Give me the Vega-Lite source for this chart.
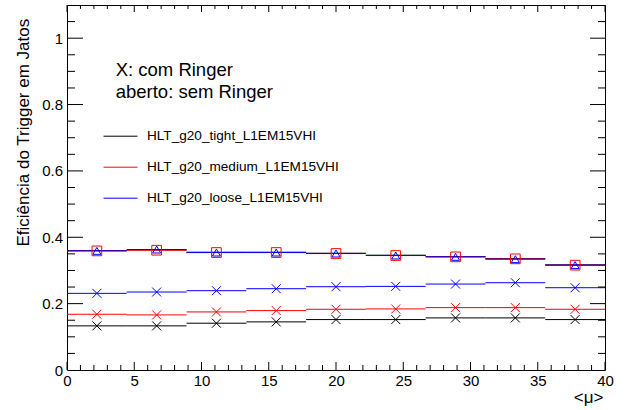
{
  "$schema": "https://vega.github.io/schema/vega-lite/v6.json",
  "width": 538,
  "height": 365,
  "autosize": {"type": "none"},
  "padding": {"left": 67, "top": 5, "right": 23, "bottom": 40},
  "background": "white",
  "config": {
    "view": {"stroke": "black", "strokeWidth": 1},
    "font": "Liberation Sans",
    "legend": {
      "orient": "none",
      "legendX": 36,
      "legendY": 113.7,
      "padding": 0,
      "symbolType": "stroke",
      "symbolSize": 1156,
      "symbolStrokeWidth": 1,
      "labelOffset": 9,
      "rowPadding": 6,
      "labelFont": "Liberation Sans",
      "labelFontSize": 13.6,
      "labelColor": "black",
      "labelLimit": 0
    }
  },
  "data": {
    "values": [
      {"trigger": "HLT_g20_tight_L1EM15VHI", "ringer": "com", "mu": 2.222, "lo": 0, "hi": 4.444, "eff": 0.133},
      {"trigger": "HLT_g20_tight_L1EM15VHI", "ringer": "com", "mu": 6.667, "lo": 4.444, "hi": 8.889, "eff": 0.133},
      {"trigger": "HLT_g20_tight_L1EM15VHI", "ringer": "com", "mu": 11.111, "lo": 8.889, "hi": 13.333, "eff": 0.141},
      {"trigger": "HLT_g20_tight_L1EM15VHI", "ringer": "com", "mu": 15.556, "lo": 13.333, "hi": 17.778, "eff": 0.145},
      {"trigger": "HLT_g20_tight_L1EM15VHI", "ringer": "com", "mu": 20, "lo": 17.778, "hi": 22.222, "eff": 0.152},
      {"trigger": "HLT_g20_tight_L1EM15VHI", "ringer": "com", "mu": 24.444, "lo": 22.222, "hi": 26.667, "eff": 0.152},
      {"trigger": "HLT_g20_tight_L1EM15VHI", "ringer": "com", "mu": 28.889, "lo": 26.667, "hi": 31.111, "eff": 0.157},
      {"trigger": "HLT_g20_tight_L1EM15VHI", "ringer": "com", "mu": 33.333, "lo": 31.111, "hi": 35.556, "eff": 0.157},
      {"trigger": "HLT_g20_tight_L1EM15VHI", "ringer": "com", "mu": 37.778, "lo": 35.556, "hi": 40, "eff": 0.152},
      {"trigger": "HLT_g20_medium_L1EM15VHI", "ringer": "com", "mu": 2.222, "lo": 0, "hi": 4.444, "eff": 0.168},
      {"trigger": "HLT_g20_medium_L1EM15VHI", "ringer": "com", "mu": 6.667, "lo": 4.444, "hi": 8.889, "eff": 0.166},
      {"trigger": "HLT_g20_medium_L1EM15VHI", "ringer": "com", "mu": 11.111, "lo": 8.889, "hi": 13.333, "eff": 0.175},
      {"trigger": "HLT_g20_medium_L1EM15VHI", "ringer": "com", "mu": 15.556, "lo": 13.333, "hi": 17.778, "eff": 0.179},
      {"trigger": "HLT_g20_medium_L1EM15VHI", "ringer": "com", "mu": 20, "lo": 17.778, "hi": 22.222, "eff": 0.183},
      {"trigger": "HLT_g20_medium_L1EM15VHI", "ringer": "com", "mu": 24.444, "lo": 22.222, "hi": 26.667, "eff": 0.184},
      {"trigger": "HLT_g20_medium_L1EM15VHI", "ringer": "com", "mu": 28.889, "lo": 26.667, "hi": 31.111, "eff": 0.188},
      {"trigger": "HLT_g20_medium_L1EM15VHI", "ringer": "com", "mu": 33.333, "lo": 31.111, "hi": 35.556, "eff": 0.188},
      {"trigger": "HLT_g20_medium_L1EM15VHI", "ringer": "com", "mu": 37.778, "lo": 35.556, "hi": 40, "eff": 0.183},
      {"trigger": "HLT_g20_loose_L1EM15VHI", "ringer": "com", "mu": 2.222, "lo": 0, "hi": 4.444, "eff": 0.231},
      {"trigger": "HLT_g20_loose_L1EM15VHI", "ringer": "com", "mu": 6.667, "lo": 4.444, "hi": 8.889, "eff": 0.235},
      {"trigger": "HLT_g20_loose_L1EM15VHI", "ringer": "com", "mu": 11.111, "lo": 8.889, "hi": 13.333, "eff": 0.239},
      {"trigger": "HLT_g20_loose_L1EM15VHI", "ringer": "com", "mu": 15.556, "lo": 13.333, "hi": 17.778, "eff": 0.245},
      {"trigger": "HLT_g20_loose_L1EM15VHI", "ringer": "com", "mu": 20, "lo": 17.778, "hi": 22.222, "eff": 0.251},
      {"trigger": "HLT_g20_loose_L1EM15VHI", "ringer": "com", "mu": 24.444, "lo": 22.222, "hi": 26.667, "eff": 0.252},
      {"trigger": "HLT_g20_loose_L1EM15VHI", "ringer": "com", "mu": 28.889, "lo": 26.667, "hi": 31.111, "eff": 0.259},
      {"trigger": "HLT_g20_loose_L1EM15VHI", "ringer": "com", "mu": 33.333, "lo": 31.111, "hi": 35.556, "eff": 0.263},
      {"trigger": "HLT_g20_loose_L1EM15VHI", "ringer": "com", "mu": 37.778, "lo": 35.556, "hi": 40, "eff": 0.248},
      {"trigger": "HLT_g20_tight_L1EM15VHI", "ringer": "sem", "mu": 2.222, "lo": 0, "hi": 4.444, "eff": 0.36},
      {"trigger": "HLT_g20_tight_L1EM15VHI", "ringer": "sem", "mu": 6.667, "lo": 4.444, "hi": 8.889, "eff": 0.362},
      {"trigger": "HLT_g20_tight_L1EM15VHI", "ringer": "sem", "mu": 11.111, "lo": 8.889, "hi": 13.333, "eff": 0.355},
      {"trigger": "HLT_g20_tight_L1EM15VHI", "ringer": "sem", "mu": 15.556, "lo": 13.333, "hi": 17.778, "eff": 0.355},
      {"trigger": "HLT_g20_tight_L1EM15VHI", "ringer": "sem", "mu": 20, "lo": 17.778, "hi": 22.222, "eff": 0.352},
      {"trigger": "HLT_g20_tight_L1EM15VHI", "ringer": "sem", "mu": 24.444, "lo": 22.222, "hi": 26.667, "eff": 0.346},
      {"trigger": "HLT_g20_tight_L1EM15VHI", "ringer": "sem", "mu": 28.889, "lo": 26.667, "hi": 31.111, "eff": 0.342},
      {"trigger": "HLT_g20_tight_L1EM15VHI", "ringer": "sem", "mu": 33.333, "lo": 31.111, "hi": 35.556, "eff": 0.336},
      {"trigger": "HLT_g20_tight_L1EM15VHI", "ringer": "sem", "mu": 37.778, "lo": 35.556, "hi": 40, "eff": 0.317},
      {"trigger": "HLT_g20_medium_L1EM15VHI", "ringer": "sem", "mu": 2.222, "lo": 0, "hi": 4.444, "eff": 0.359},
      {"trigger": "HLT_g20_medium_L1EM15VHI", "ringer": "sem", "mu": 6.667, "lo": 4.444, "hi": 8.889, "eff": 0.361},
      {"trigger": "HLT_g20_medium_L1EM15VHI", "ringer": "sem", "mu": 11.111, "lo": 8.889, "hi": 13.333, "eff": 0.354},
      {"trigger": "HLT_g20_medium_L1EM15VHI", "ringer": "sem", "mu": 15.556, "lo": 13.333, "hi": 17.778, "eff": 0.354},
      {"trigger": "HLT_g20_medium_L1EM15VHI", "ringer": "sem", "mu": 20, "lo": 17.778, "hi": 22.222, "eff": 0.351},
      {"trigger": "HLT_g20_medium_L1EM15VHI", "ringer": "sem", "mu": 24.444, "lo": 22.222, "hi": 26.667, "eff": 0.345},
      {"trigger": "HLT_g20_medium_L1EM15VHI", "ringer": "sem", "mu": 28.889, "lo": 26.667, "hi": 31.111, "eff": 0.341},
      {"trigger": "HLT_g20_medium_L1EM15VHI", "ringer": "sem", "mu": 33.333, "lo": 31.111, "hi": 35.556, "eff": 0.335},
      {"trigger": "HLT_g20_medium_L1EM15VHI", "ringer": "sem", "mu": 37.778, "lo": 35.556, "hi": 40, "eff": 0.316},
      {"trigger": "HLT_g20_loose_L1EM15VHI", "ringer": "sem", "mu": 2.222, "lo": 0, "hi": 4.444, "eff": 0.359},
      {"trigger": "HLT_g20_loose_L1EM15VHI", "ringer": "sem", "mu": 6.667, "lo": 4.444, "hi": 8.889, "eff": 0.363},
      {"trigger": "HLT_g20_loose_L1EM15VHI", "ringer": "sem", "mu": 11.111, "lo": 8.889, "hi": 13.333, "eff": 0.354},
      {"trigger": "HLT_g20_loose_L1EM15VHI", "ringer": "sem", "mu": 15.556, "lo": 13.333, "hi": 17.778, "eff": 0.354},
      {"trigger": "HLT_g20_loose_L1EM15VHI", "ringer": "sem", "mu": 20, "lo": 17.778, "hi": 22.222, "eff": 0.351},
      {"trigger": "HLT_g20_loose_L1EM15VHI", "ringer": "sem", "mu": 24.444, "lo": 22.222, "hi": 26.667, "eff": 0.345},
      {"trigger": "HLT_g20_loose_L1EM15VHI", "ringer": "sem", "mu": 28.889, "lo": 26.667, "hi": 31.111, "eff": 0.341},
      {"trigger": "HLT_g20_loose_L1EM15VHI", "ringer": "sem", "mu": 33.333, "lo": 31.111, "hi": 35.556, "eff": 0.334},
      {"trigger": "HLT_g20_loose_L1EM15VHI", "ringer": "sem", "mu": 37.778, "lo": 35.556, "hi": 40, "eff": 0.316}
    ]
  },
  "layer": [
    {
      "mark": {"type": "rule", "strokeWidth": 1},
      "encoding": {
        "x": {
          "field": "lo", "type": "quantitative",
          "scale": {"domain": [0, 40], "nice": false},
          "axis": {
            "orient": "bottom",
            "values": [0, 5, 10, 15, 20, 25, 30, 35, 40],
            "domain": false,
            "ticks": false,
            "grid": false,
            "labelFont": "Liberation Sans",
            "labelFontSize": 15,
            "labelColor": "black",
            "labelPadding": 3,
            "labelFlush": false,
            "labelOverlap": false,
            "title": "<μ>",
            "titleFont": "Liberation Sans",
            "titleFontWeight": "normal",
            "titleColor": "black",
            "titleFontSize": 17,
            "titleAlign": "right",
            "titleBaseline": "alphabetic",
            "titleX": 536,
            "titleY": 32.7
          }
        },
        "x2": {"field": "hi"},
        "y": {
          "field": "eff", "type": "quantitative",
          "scale": {"domain": [0, 1.1], "nice": false, "zero": true},
          "axis": {
            "orient": "left",
            "values": [0, 0.2, 0.4, 0.6, 0.8, 1],
            "format": ".2~f",
            "domain": false,
            "ticks": false,
            "grid": false,
            "labelFont": "Liberation Sans",
            "labelFontSize": 15,
            "labelColor": "black",
            "labelPadding": 4.5,
            "labelFlush": false,
            "labelOverlap": false,
            "title": "Eficiência do Trigger em Jatos",
            "titleFont": "Liberation Sans",
            "titleFontWeight": "normal",
            "titleColor": "black",
            "titleFontSize": 17,
            "titleAngle": -90,
            "titleAlign": "right",
            "titleBaseline": "alphabetic",
            "titleX": -38.7,
            "titleY": 13.3
          }
        },
        "color": {
          "field": "trigger", "type": "nominal",
          "scale": {
            "domain": ["HLT_g20_tight_L1EM15VHI", "HLT_g20_medium_L1EM15VHI", "HLT_g20_loose_L1EM15VHI"],
            "range": ["#000000", "#ff0000", "#0000ff"]
          },
          "legend": {"title": null}
        }
      }
    },
    {
      "transform": [{"filter": "datum.ringer === 'com'"}],
      "mark": {"type": "point", "shape": "M-1,-1L1,1M-1,1L1,-1", "filled": false, "size": 81, "strokeWidth": 1, "opacity": 1},
      "encoding": {
        "x": {"field": "mu", "type": "quantitative"},
        "y": {"field": "eff", "type": "quantitative"},
        "color": {"field": "trigger", "type": "nominal", "legend": null}
      }
    },
    {
      "transform": [{"filter": "datum.ringer === 'sem' && datum.trigger === 'HLT_g20_medium_L1EM15VHI'"}],
      "mark": {"type": "point", "shape": "square", "filled": false, "size": 94, "strokeWidth": 1, "opacity": 1},
      "encoding": {
        "x": {"field": "mu", "type": "quantitative"},
        "y": {"field": "eff", "type": "quantitative"},
        "color": {"field": "trigger", "type": "nominal", "legend": null}
      }
    },
    {
      "transform": [{"filter": "datum.ringer === 'sem' && datum.trigger === 'HLT_g20_loose_L1EM15VHI'"}],
      "mark": {"type": "point", "shape": "triangle-up", "filled": false, "size": 64, "strokeWidth": 1, "opacity": 1},
      "encoding": {
        "x": {"field": "mu", "type": "quantitative"},
        "y": {"field": "eff", "type": "quantitative"},
        "color": {"field": "trigger", "type": "nominal", "legend": null}
      }
    },
    {
      "data": {"values": [{"note": "markers"}]},
      "mark": {
        "type": "text",
        "text": ["X: com Ringer", "aberto: sem Ringer"],
        "align": "left",
        "baseline": "alphabetic",
        "fontSize": 18.5,
        "lineHeight": 22.6,
        "font": "Liberation Sans",
        "color": "black"
      },
      "encoding": {
        "x": {"datum": 3.62, "type": "quantitative"},
        "y": {"datum": 0.887, "type": "quantitative"}
      }
    },
    {
      "data": {"values": [{"tick": 0}, {"tick": 5}, {"tick": 10}, {"tick": 15}, {"tick": 20}, {"tick": 25}, {"tick": 30}, {"tick": 35}, {"tick": 40}]},
      "layer": [
        {
          "mark": {"type": "rule", "color": "black", "strokeWidth": 1},
          "encoding": {
            "x": {"field": "tick", "type": "quantitative"},
            "y": {"datum": 0, "type": "quantitative"},
            "y2": {"datum": 0.0241}
          }
        },
        {
          "mark": {"type": "rule", "color": "black", "strokeWidth": 1},
          "encoding": {
            "x": {"field": "tick", "type": "quantitative"},
            "y": {"datum": 1.1, "type": "quantitative"},
            "y2": {"datum": 1.0789}
          }
        }
      ]
    },
    {
      "data": {"values": [{"tick": 1}, {"tick": 2}, {"tick": 3}, {"tick": 4}, {"tick": 6}, {"tick": 7}, {"tick": 8}, {"tick": 9}, {"tick": 11}, {"tick": 12}, {"tick": 13}, {"tick": 14}, {"tick": 16}, {"tick": 17}, {"tick": 18}, {"tick": 19}, {"tick": 21}, {"tick": 22}, {"tick": 23}, {"tick": 24}, {"tick": 26}, {"tick": 27}, {"tick": 28}, {"tick": 29}, {"tick": 31}, {"tick": 32}, {"tick": 33}, {"tick": 34}, {"tick": 36}, {"tick": 37}, {"tick": 38}, {"tick": 39}]},
      "layer": [
        {
          "mark": {"type": "rule", "color": "black", "strokeWidth": 1},
          "encoding": {
            "x": {"field": "tick", "type": "quantitative"},
            "y": {"datum": 0, "type": "quantitative"},
            "y2": {"datum": 0.0151}
          }
        },
        {
          "mark": {"type": "rule", "color": "black", "strokeWidth": 1},
          "encoding": {
            "x": {"field": "tick", "type": "quantitative"},
            "y": {"datum": 1.1, "type": "quantitative"},
            "y2": {"datum": 1.088}
          }
        }
      ]
    },
    {
      "data": {"values": [{"tick": 0.2}, {"tick": 0.4}, {"tick": 0.6}, {"tick": 0.8}, {"tick": 1}]},
      "layer": [
        {
          "mark": {"type": "rule", "color": "black", "strokeWidth": 1},
          "encoding": {
            "y": {"field": "tick", "type": "quantitative"},
            "x": {"datum": 0, "type": "quantitative"},
            "x2": {"datum": 1.19}
          }
        },
        {
          "mark": {"type": "rule", "color": "black", "strokeWidth": 1},
          "encoding": {
            "y": {"field": "tick", "type": "quantitative"},
            "x": {"datum": 40, "type": "quantitative"},
            "x2": {"datum": 38.885}
          }
        }
      ]
    },
    {
      "data": {"values": [{"tick": 0.05}, {"tick": 0.1}, {"tick": 0.15}, {"tick": 0.25}, {"tick": 0.3}, {"tick": 0.35}, {"tick": 0.45}, {"tick": 0.5}, {"tick": 0.55}, {"tick": 0.65}, {"tick": 0.7}, {"tick": 0.75}, {"tick": 0.85}, {"tick": 0.9}, {"tick": 0.95}, {"tick": 1.05}]},
      "layer": [
        {
          "mark": {"type": "rule", "color": "black", "strokeWidth": 1},
          "encoding": {
            "y": {"field": "tick", "type": "quantitative"},
            "x": {"datum": 0, "type": "quantitative"},
            "x2": {"datum": 0.595}
          }
        },
        {
          "mark": {"type": "rule", "color": "black", "strokeWidth": 1},
          "encoding": {
            "y": {"field": "tick", "type": "quantitative"},
            "x": {"datum": 40, "type": "quantitative"},
            "x2": {"datum": 39.48}
          }
        }
      ]
    }
  ],
  "resolve": {"legend": {"color": "independent"}}
}
